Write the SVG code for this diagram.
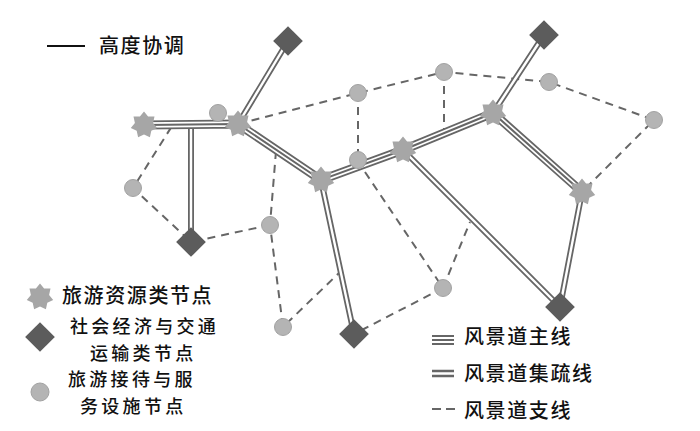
<svg xmlns="http://www.w3.org/2000/svg" xmlns:xlink="http://www.w3.org/1999/xlink" width="700" height="431" viewBox="0 0 700 431">
<style>
  .t { font-family: "Noto Sans CJK SC", "Liberation Serif", serif; font-size: 20px; font-weight: 500; fill: #111; letter-spacing: 1.6px; }
  .t2 { font-size: 18px; letter-spacing: 3.3px; }
  .m1 { fill: none; stroke: #666; stroke-width: 9; }
  .m2 { fill: none; stroke: #fff; stroke-width: 5.5; }
  .m3 { fill: none; stroke: #666; stroke-width: 2; }
  .c1 { fill: none; stroke: #666; stroke-width: 6; }
  .c2 { fill: none; stroke: #fff; stroke-width: 2.4; }
  .br { fill: none; stroke: #666; stroke-width: 2; stroke-dasharray: 8 6; }
  .star { fill: #a6a6a6; }
  .dia { fill: #5c5c5c; }
  .circ { fill: #b4b4b4; stroke: #a2a2a2; stroke-width: 1; }
</style>
<defs>
  <polygon id="star" points="0,-13.5 4.1,-8.4 10.5,-8.4 9.1,-2.1 13.2,3 7.3,5.8 5.9,12.2 0,9.4 -5.9,12.2 -7.3,5.8 -13.2,3 -9.1,-2.1 -10.5,-8.4 -4.1,-8.4"/>
  <rect id="dia" x="-10.5" y="-10.5" width="21" height="21" transform="rotate(45)"/>
  <path id="mainRoute" d="M144,125 L238,124 L321,180 L403,150 L493,113 L582,192"/>
  <path id="collRoute" d="M238,124 L288,41 M493,113 L544,35 M191,126 L191,242 M321,180 L354,334 M403,150 L560,307 M582,192 L560,307"/>
</defs>

<g id="connectors">
  <g id="branch-lines">
    <path class="br" d="M238,124 L358,93 L444,72 L549,82 L654,120 L582,192"/>
    <path class="br" d="M358,93 L358,160"/>
    <path class="br" d="M444,72 L444,136"/>
    <path class="br" d="M365,172 L443,288 L470,222"/>
    <path class="br" d="M443,288 L354,334"/>
    <path class="br" d="M276,151 L270,225 L283,327 L340,272"/>
    <path class="br" d="M270,225 L191,242 L133,188 L172,126"/>
  </g>
  <g id="collector-lines">
    <use xlink:href="#collRoute" class="c1"/>
    <use xlink:href="#collRoute" class="c2"/>
  </g>
  <g id="main-lines">
    <use xlink:href="#mainRoute" class="m1"/>
    <use xlink:href="#mainRoute" class="m2"/>
    <use xlink:href="#mainRoute" class="m3"/>
  </g>
</g>

<g id="nodes">
  <g id="C1"><circle class="circ" cx="218" cy="113" r="8.5"/></g>
  <g id="C2"><circle class="circ" cx="358" cy="93" r="8.5"/></g>
  <g id="C3"><circle class="circ" cx="444" cy="72" r="8.5"/></g>
  <g id="C4"><circle class="circ" cx="549" cy="82" r="8.5"/></g>
  <g id="C5"><circle class="circ" cx="654" cy="120" r="8.5"/></g>
  <g id="C6"><circle class="circ" cx="358" cy="160" r="8.5"/></g>
  <g id="C7"><circle class="circ" cx="133" cy="188" r="8.5"/></g>
  <g id="C8"><circle class="circ" cx="270" cy="225" r="8.5"/></g>
  <g id="C9"><circle class="circ" cx="283" cy="327" r="8.5"/></g>
  <g id="C10"><circle class="circ" cx="443" cy="288" r="8.5"/></g>

  <g id="S1"><use xlink:href="#star" class="star" x="144" y="125"/></g>
  <g id="S2"><use xlink:href="#star" class="star" x="238" y="124"/></g>
  <g id="S3"><use xlink:href="#star" class="star" x="321" y="180"/></g>
  <g id="S4"><use xlink:href="#star" class="star" x="403" y="150"/></g>
  <g id="S5"><use xlink:href="#star" class="star" x="493" y="113"/></g>
  <g id="S6"><use xlink:href="#star" class="star" x="582" y="192"/></g>

  <g id="D1"><use xlink:href="#dia" class="dia" transform="translate(288,41)"/></g>
  <g id="D2"><use xlink:href="#dia" class="dia" transform="translate(544,35)"/></g>
  <g id="D3"><use xlink:href="#dia" class="dia" transform="translate(191,242)"/></g>
  <g id="D4"><use xlink:href="#dia" class="dia" transform="translate(354,334)"/></g>
  <g id="D5"><use xlink:href="#dia" class="dia" transform="translate(560,307)"/></g>
</g>

<g id="title">
  <line x1="47" y1="46" x2="85" y2="46" stroke="#111" stroke-width="2"/>
  <text class="t" x="99" y="53">高度协调</text>
</g>

<g id="legend-nodes">
  <use xlink:href="#star" class="star" x="40" y="297"/>
  <use xlink:href="#dia" class="dia" transform="translate(40,337)"/>
  <circle class="circ" cx="40" cy="392" r="9"/>
  <text class="t" x="62" y="303">旅游资源类节点</text>
  <text class="t t2" x="70" y="332.5">社会经济与交通</text>
  <text class="t t2" x="90" y="359.5">运输类节点</text>
  <text class="t t2" x="68" y="386">旅游接待与服</text>
  <text class="t t2" x="80" y="413">务设施节点</text>
</g>

<g id="legend-lines">
  <path d="M432,336 H454 M432,340 H454 M432,344 H454" stroke="#666" stroke-width="1.8" fill="none"/>
  <path d="M432,371 H454 M432,376 H454" stroke="#666" stroke-width="2.4" fill="none"/>
  <path d="M432,409 H441 M446,409 H455" stroke="#666" stroke-width="2" fill="none"/>
  <text class="t" x="464" y="344">风景道主线</text>
  <text class="t" x="464" y="381">风景道集疏线</text>
  <text class="t" x="464" y="418">风景道支线</text>
</g>
</svg>
